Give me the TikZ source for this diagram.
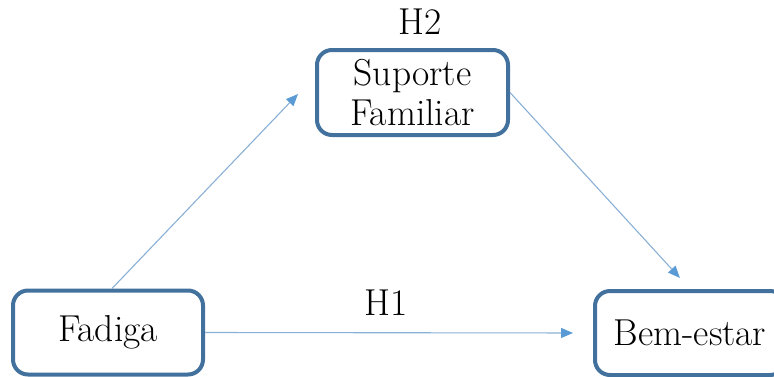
\documentclass[tikz,border=0pt]{standalone}
\usetikzlibrary{arrows.meta}
\definecolor{boxline}{HTML}{41719C}
\definecolor{arrline}{HTML}{8AB0D6}
\definecolor{arrhead}{HTML}{5B9BD5}
\begin{document}
\begin{tikzpicture}[x=1pt,y=1pt,
  varbox/.style={draw=boxline, line width=4pt, rounded corners=15pt, fill=white,
    minimum width=190pt, minimum height=84pt, align=center,
    font=\fontsize{37.5}{40}\selectfont, inner sep=0pt},
  link/.style={draw=arrline, line width=1.1pt,
    -{Triangle[length=12pt,width=10pt,color=arrhead]}},
  hyp/.style={font=\fontsize{37.5}{40}\selectfont, inner sep=0pt}]
  \useasboundingbox (0,0) rectangle (774,-376);
  % variables
  \node[varbox] (fad) at (108,-332.5) {Fadiga};
  \node[varbox] (bem) at (690,-333) {Bem-estar};
  \node[varbox, minimum width=191pt, minimum height=85pt] (sup) at (412.5,-92.5) {Suporte\\Familiar};
  % hypothesis labels
  \node[hyp] (h2) at (420,-22) {H2};
  \node[hyp] (h1) at (386,-303) {H1};
  % paths
  \coordinate (supin) at (298,-94);
  \draw[link] ([xshift=4pt]fad.north) -- (supin);
  \draw[link, shorten >=15pt] (sup.east) -- (bem.north);
  \draw[link, shorten >=20pt] (fad.east) -- (bem.west);
\end{tikzpicture}
\end{document}
